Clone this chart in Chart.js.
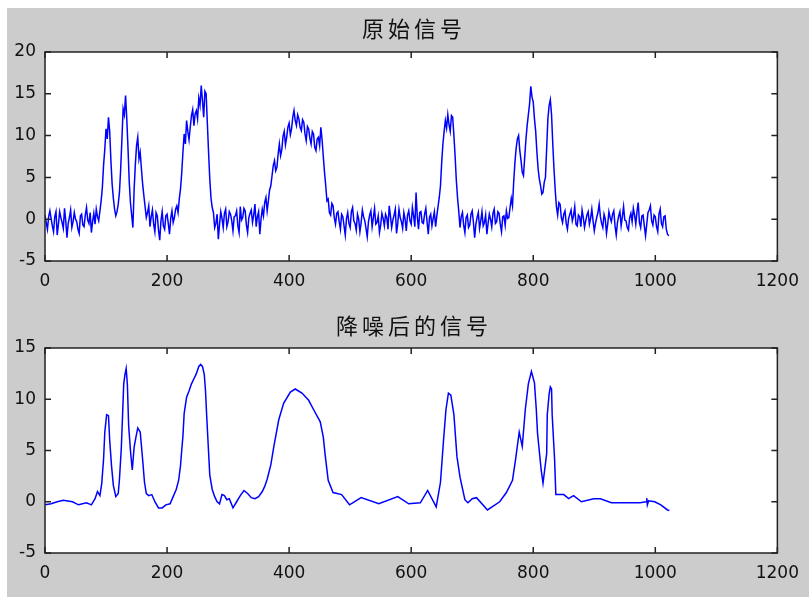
<!DOCTYPE html>
<html>
<head>
<meta charset="utf-8">
<script src="https://cdn.jsdelivr.net/npm/chart.js@4"></script>
<style>
    body { margin: 0; background: #ffffff; }
    #fig { position: absolute; left: 7px; top: 8px; width: 802px; height: 589px; background: #cccccc; }
    canvas { position: absolute; left: 0; }
    #top { top: 0; }
    #bottom { top: 300px; }
</style>
</head>
<body>
<div id="fig"></div>
<canvas id="top" width="809" height="300"></canvas>
<canvas id="bottom" width="809" height="297"></canvas>
<script>
// noisy signal, every 2nd sample
const NOISY_STEP = 2;
const noisyValues = [
    0.5, -0.4, -1.2, 0.3, 1.0, 0.1, -0.8, -1.5, 0.3, 0.9, -1.9, -0.6, 0.9, 0.2, -0.4, -1.1,
    1.3, -0.2, -2.2, -0.5, 0.2, 1.1, -1.0, -0.3, 0.8, 0.0, -0.3, -1.2, -1.7, 0.4, 0.6, -0.7,
    -0.9, 0.5, 1.4, -0.1, -0.5, 0.8, -1.6, -0.3, 0.7, -0.6, 1.2, 0.3, -0.2, 1.0, 2.2, 3.8,
    6.5, 8.4, 10.8, 9.6, 12.2, 10.5, 7.0, 4.2, 2.5, 1.2, 0.4, 0.9, 1.8, 3.2, 6.0, 9.5,
    13.2, 12.5, 14.8, 12.0, 8.5, 4.5, 2.0, 0.5, -1.0, 3.5, 6.5, 8.8, 9.8, 7.2, 8.0, 6.0,
    4.2, 2.8, 1.5, 0.2, 0.8, 1.6, -0.9, 0.3, 1.1, -0.6, -1.5, 0.8, 0.4, -1.3, -2.5, -0.2,
    0.9, -0.8, -1.2, 0.4, 0.6, -0.5, -1.8, 0.1, 1.0, -0.4, 0.2, 1.2, 1.6, 0.8, 2.4, 3.6,
    5.5, 8.0, 10.2, 9.0, 11.8, 10.5, 9.5, 11.0, 12.4, 13.1, 11.2, 12.6, 13.0, 12.0, 14.5, 13.6,
    16.0, 14.2, 12.2, 15.3, 15.0, 11.5, 8.0, 4.8, 2.5, 1.4, 0.8, -1.0, -0.5, 0.6, -2.4, -0.6,
    0.9, 0.1, -1.0, 0.7, 1.2, -0.9, -0.3, 0.9, 0.6, -0.2, -1.4, 0.3, 0.4, 1.0, -0.8, -1.6,
    1.5, -0.1, 0.2, 1.3, 1.0, -0.7, -1.6, 0.2, 0.7, 1.1, -0.4, 0.5, 1.8, -0.9, 0.3, 0.9,
    -1.8, 0.0, 1.2, 0.4, 2.0, 2.6, 1.0, 2.2, 3.5, 4.0, 5.2, 6.4, 7.0, 5.8, 6.2, 7.8,
    9.0, 7.6, 8.3, 9.9, 10.5, 8.9, 9.8, 11.0, 11.5, 10.1, 10.8, 12.2, 13.0, 11.8, 11.2, 12.5,
    12.0, 11.0, 10.6, 11.9, 11.6, 10.2, 9.4, 11.1, 10.8, 9.7, 9.0, 10.5, 10.2, 8.6, 8.2, 9.6,
    9.8, 8.8, 11.0, 9.5, 7.5, 5.6, 4.0, 2.2, 2.4, 0.8, 0.5, 1.9, 1.6, 0.2, -0.6, 0.7,
    0.9, -0.3, -1.2, 0.6, 0.3, -0.8, -1.9, 0.1, 0.8, -0.5, -1.0, 0.9, 1.4, -0.2, -0.5, -1.3,
    0.6, 0.0, -1.5, -0.4, 1.1, 0.3, -0.2, -1.1, -2.1, -0.3, 0.5, 1.0, -0.9, 0.2, 1.3, -0.6,
    -0.4, 0.4, -1.6, -0.7, 0.7, 0.1, -0.8, 0.6, 0.2, -1.2, 1.6, 0.4, -1.0, -0.1, 0.5, 1.2,
    -1.7, -0.5, 1.2, 0.2, -0.3, -1.1, 0.8, 0.0, -1.4, 0.5, 1.0, -0.2, -0.6, 1.4, 0.4, -0.9,
    3.2, 0.3, -1.2, 0.8, 0.9, -0.4, -0.5, 0.6, 1.3, -0.3, -1.8, 0.2, 0.6, -0.8, 0.1, 0.9,
    -0.9, 0.4, 1.5, 2.6, 4.0, 6.8, 9.0, 10.5, 11.8, 10.9, 12.5, 11.3, 10.5, 12.4, 12.2, 10.0,
    7.5, 4.6, 2.5, 0.9, -1.0, 0.3, 0.8, -0.7, -1.6, 0.2, 0.5, -1.0, -0.7, 0.6, 1.0, -0.4,
    -2.2, -0.6, 0.2, 0.8, -1.1, -0.2, 0.9, -0.8, -0.4, 0.5, -1.8, -0.5, 0.6, 0.0, -0.9, 0.7,
    1.2, -0.5, -0.3, 0.9, 0.7, -0.6, -1.5, 0.3, 0.4, -0.7, 1.0, 0.1, 0.2, 1.4, 2.5, 1.6,
    4.5, 6.8, 8.5, 9.6, 10.0, 8.2, 7.0, 5.6, 5.2, 7.4, 9.5, 11.2, 12.5, 13.8, 15.9, 14.6,
    14.0, 12.0, 10.5, 8.0, 6.0, 4.8, 4.0, 3.0, 3.2, 4.4, 5.0, 8.5, 12.0, 13.6, 14.3, 12.5,
    9.0, 6.0, 3.5, 1.5, 0.5, 2.0, 1.8, 0.2, -0.4, 0.6, 1.0, -0.5, -1.2, 0.1, 0.6, 1.1,
    -0.2, 0.4, 1.5, -0.6, -0.8, 0.5, 0.3, -0.9, 1.1, 0.2, -1.0, -0.2, 0.5, 0.9, -0.6, 0.1,
    1.2, -0.2, -1.4, -0.5, 0.2, 0.8, 1.8, 0.3, -0.5, -1.0, 0.6, 0.0, -1.7, -0.6, 0.9, 0.2,
    -0.3, 0.6, 1.0, -0.8, -1.9, -0.4, 0.4, 0.9, -0.8, 0.3, 1.5, -0.1, -0.2, -1.0, -1.3, 0.2,
    0.7, -0.3, 1.3, 0.5, -0.6, 0.9, 2.0, -0.4, -1.0, 0.4, 0.5, -0.8, -2.0, -0.6, 0.8, 1.1,
    1.6, -0.2, -0.7, 0.5, 0.3, -0.9, -1.5, 0.6, 1.2, -0.5, -0.9, 0.3, 0.4, -1.2, -1.8, -2.0
];

const denoisedX = [
    0, 10, 20, 30, 45, 55, 68, 76, 82, 86, 90, 93, 96, 98, 101, 104, 106, 109, 112, 116,
    120, 122, 125, 127, 129, 131, 133, 135, 137, 140, 143, 146, 149, 152, 156, 160, 163, 166, 170, 175,
    180, 186, 192, 198, 205, 210, 215, 219, 222, 224, 226, 228, 232, 236, 240, 244, 248, 252, 255, 258,
    261, 263, 265, 267, 270, 274, 278, 282, 286, 290, 294, 298, 302, 308, 314, 320, 326, 332, 338, 344,
    350, 356, 360, 364, 370, 375, 383, 391, 402, 410, 421, 432, 440, 451, 456, 459, 464, 472, 486, 499,
    518, 547, 578, 596, 615, 627, 641, 648, 653, 657, 661, 665, 670, 675, 680, 688, 693, 700, 707, 725,
    745, 756, 766, 771, 777, 782, 787, 792, 797, 802, 805, 807, 813, 816, 822, 823, 826, 828, 830, 831,
    835, 837, 850, 858, 866, 879, 899, 910, 928, 975, 985, 986, 987, 989, 999, 1009, 1020, 1023
];
const denoisedY = [
    -0.3, -0.2, 0, 0.15, 0, -0.3, -0.1, -0.3, 0.3, 1.0, 0.6, 1.8, 4.2, 6.8, 8.5, 8.4, 6.0, 3.5, 1.6, 0.5,
    0.8, 2.2, 5.2, 8.3, 11.5, 12.4, 13.0, 11.4, 7.5, 5.0, 3.1, 5.3, 6.3, 7.2, 6.8, 4.1, 1.9, 0.8, 0.6, 0.7,
    0, -0.6, -0.6, -0.3, -0.2, 0.5, 1.2, 2.1, 3.5, 5.0, 6.4, 8.6, 10.2, 10.8, 11.5, 12.0, 12.5, 13.2, 13.4, 13.2,
    12.4, 10.8, 8.3, 6.0, 2.6, 1.2, 0.5, 0, -0.2, 0.7, 0.6, 0.2, 0.3, -0.6, 0, 0.6, 1.1, 0.8, 0.4, 0.3,
    0.5, 1.0, 1.5, 2.2, 3.6, 5.4, 8.0, 9.6, 10.7, 11.0, 10.6, 9.9, 9.0, 7.8, 6.3, 4.6, 2.1, 0.9, 0.7, -0.3,
    0.4, -0.2, 0.5, -0.2, -0.1, 1.1, -0.5, 1.9, 6.0, 9.0, 10.6, 10.4, 8.5, 4.4, 2.4, 0.2, -0.1, 0.3, 0.4, -0.8,
    0, 0.9, 2.1, 4.1, 6.8, 5.4, 9.0, 11.5, 12.7, 11.6, 9.0, 6.7, 3.1, 1.8, 4.7, 8.5, 10.5, 11.2, 11.0, 8.5,
    4.1, 0.7, 0.7, 0.3, 0.6, 0, 0.3, 0.3, -0.1, -0.1, 0, 0.35, -0.3, 0.1, 0, -0.3, -0.8, -0.85
];

const xTicks = [0, 200, 400, 600, 800, 1000, 1200];
const topYRange = [-5, 20];
const bottomYRange = [-5, 15];
const TITLES = ['原始信号', '降噪后的信号'];

// white plot area, full box and inward ticks on all four sides, plus the title
const matlabAxes = {
    id: 'matlabAxes',
    beforeDraw(chart) {
        const { ctx, chartArea: a } = chart;
        ctx.save();
        ctx.fillStyle = '#ffffff';
        ctx.fillRect(a.left, a.top, a.width, a.height);
        ctx.restore();
    },
    afterDraw(chart, args, opts) {
        const { ctx, chartArea: a, scales } = chart;
        const len = 6;
        ctx.save();
        ctx.strokeStyle = '#222222';
        ctx.lineWidth = 1.5;
        ctx.strokeRect(a.left, a.top, a.width, a.height);
        ctx.beginPath();
        scales.x.ticks.forEach(t => {
            const px = scales.x.getPixelForValue(t.value);
            ctx.moveTo(px, a.bottom); ctx.lineTo(px, a.bottom - len);
            ctx.moveTo(px, a.top); ctx.lineTo(px, a.top + len);
        });
        scales.y.ticks.forEach(t => {
            const py = scales.y.getPixelForValue(t.value);
            ctx.moveTo(a.left, py); ctx.lineTo(a.left + len, py);
            ctx.moveTo(a.right, py); ctx.lineTo(a.right - len, py);
        });
        ctx.stroke();

        ctx.fillStyle = '#111111';
        ctx.font = '22px "Noto Sans CJK SC"';
        ctx.letterSpacing = '4px';
        ctx.textAlign = 'center';
        ctx.textBaseline = 'middle';
        ctx.fillText(opts.text, 414, opts.y);
        ctx.restore();
    }
};

function makeChart(canvasId, data, yRange, title, titleY, plotTop, axisHeight) {
    return new Chart(document.getElementById(canvasId), {
        type: 'line',
        data: {
            datasets: [{
                data: data,
                borderColor: '#0000ff',
                borderWidth: 1.5,
                pointRadius: 0,
                tension: 0,
                fill: false
            }]
        },
        options: {
            responsive: false,
            animation: false,
            events: [],
            layout: { padding: { top: plotTop, right: 23, left: 0, bottom: 0 } },
            scales: {
                x: {
                    type: 'linear',
                    min: 0,
                    max: 1200,
                    afterBuildTicks: (scale) => { scale.ticks = xTicks.map(v => ({ value: v })); },
                    afterFit: (scale) => { scale.height = axisHeight; },
                    grid: { display: false, drawTicks: false },
                    border: { display: false },
                    ticks: {
                        padding: 10,
                        maxRotation: 0,
                        autoSkip: false,
                        color: '#111111',
                        font: { family: 'DejaVu Sans', size: 17 },
                        callback: (v) => String(v)
                    }
                },
                y: {
                    min: yRange[0],
                    max: yRange[1],
                    afterFit: (scale) => { scale.width = 45; },
                    grid: { display: false, drawTicks: false },
                    border: { display: false },
                    ticks: {
                        stepSize: 5,
                        padding: 9,
                        color: '#111111',
                        font: { family: 'DejaVu Sans', size: 17 },
                        callback: (v) => String(v)
                    }
                }
            },
            plugins: {
                legend: { display: false },
                tooltip: { enabled: false },
                matlabAxes: { text: title, y: titleY }
            }
        },
        plugins: [matlabAxes]
    });
}

const noisyData = noisyValues.map((v, i) => ({ x: i * NOISY_STEP, y: v }));
const denoisedData = denoisedX.map((x, i) => ({ x: x, y: denoisedY[i] }));

makeChart('top', noisyData, topYRange, TITLES[0], 29, 52, 39);
makeChart('bottom', denoisedData, bottomYRange, TITLES[1], 26, 48, 44);
</script>
</body>
</html>
